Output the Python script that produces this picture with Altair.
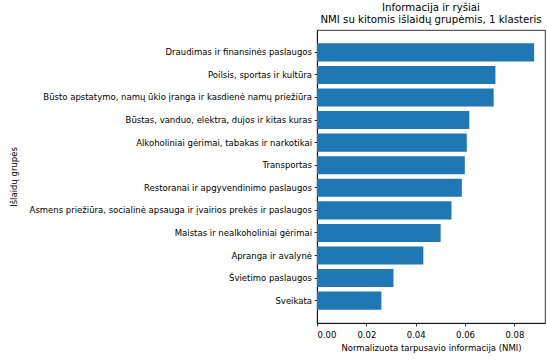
import altair as alt
import pandas as pd

# Expenditure groups, ordered top to bottom as drawn
groups = [
    "Draudimas ir finansinės paslaugos",
    "Poilsis, sportas ir kultūra",
    "Būsto apstatymo, namų ūkio įranga ir kasdienė namų priežiūra",
    "Būstas, vanduo, elektra, dujos ir kitas kuras",
    "Alkoholiniai gėrimai, tabakas ir narkotikai",
    "Transportas",
    "Restoranai ir apgyvendinimo paslaugos",
    "Asmens priežiūra, socialinė apsauga ir  įvairios prekės ir paslaugos",
    "Maistas ir nealkoholiniai gėrimai",
    "Apranga ir avalynė",
    "Švietimo paslaugos",
    "Sveikata",
]

# Normalised mutual information with the other groups
nmi = [0.0880, 0.0723, 0.0716, 0.0617, 0.0607, 0.0599,
       0.0587, 0.0545, 0.0501, 0.0431, 0.0310, 0.0261]

x_ticks = [0.00, 0.02, 0.04, 0.06, 0.08]

df = pd.DataFrame({"group": groups, "nmi": nmi})

FONT = "DejaVu Sans"

chart = (
    alt.Chart(df)
    .mark_bar(color="#1f77b4")
    .encode(
        x=alt.X(
            "nmi:Q",
            title="Normalizuota tarpusavio informacija (NMI)",
            scale=alt.Scale(domain=[0, 0.0924], nice=False, zero=True),
            axis=alt.Axis(values=x_ticks, format=".2f", grid=False),
        ),
        y=alt.Y(
            "group:N",
            title="Išlaidų grupės",
            sort=groups,
            scale=alt.Scale(paddingInner=0.2, paddingOuter=0.59),
            axis=alt.Axis(grid=False, titleX=-299),
        ),
    )
    .properties(
        width=228,
        height=293,
        title=alt.TitleParams(
            text=["Informacija ir ryšiai", "NMI su kitomis išlaidų grupėmis, 1 klasteris"],
            font=FONT,
            fontSize=10.2,
            fontWeight="normal",
            color="black",
            anchor="middle",
            frame="group",
            offset=5,
            lineHeight=11.5,
        ),
        autosize=alt.AutoSizeParams(type="none"),
        padding={"left": 317, "top": 30, "right": 2, "bottom": 38},
    )
    .configure_view(stroke="black", strokeWidth=0.8)
    .configure_axis(
        labelFont=FONT,
        titleFont=FONT,
        labelFontSize=8.5,
        titleFontSize=8.5,
        titleFontWeight="normal",
        labelColor="black",
        titleColor="black",
        domainColor="black",
        domainWidth=0.8,
        tickColor="black",
        tickWidth=0.8,
        tickSize=3,
        labelPadding=2.5,
        labelLimit=400,
    )
    .configure_axisX(labelPadding=4, titlePadding=5)
    .configure_axisY(titlePadding=8)
)

chart.save("out.html", embed_options={"renderer": "svg", "actions": False})
